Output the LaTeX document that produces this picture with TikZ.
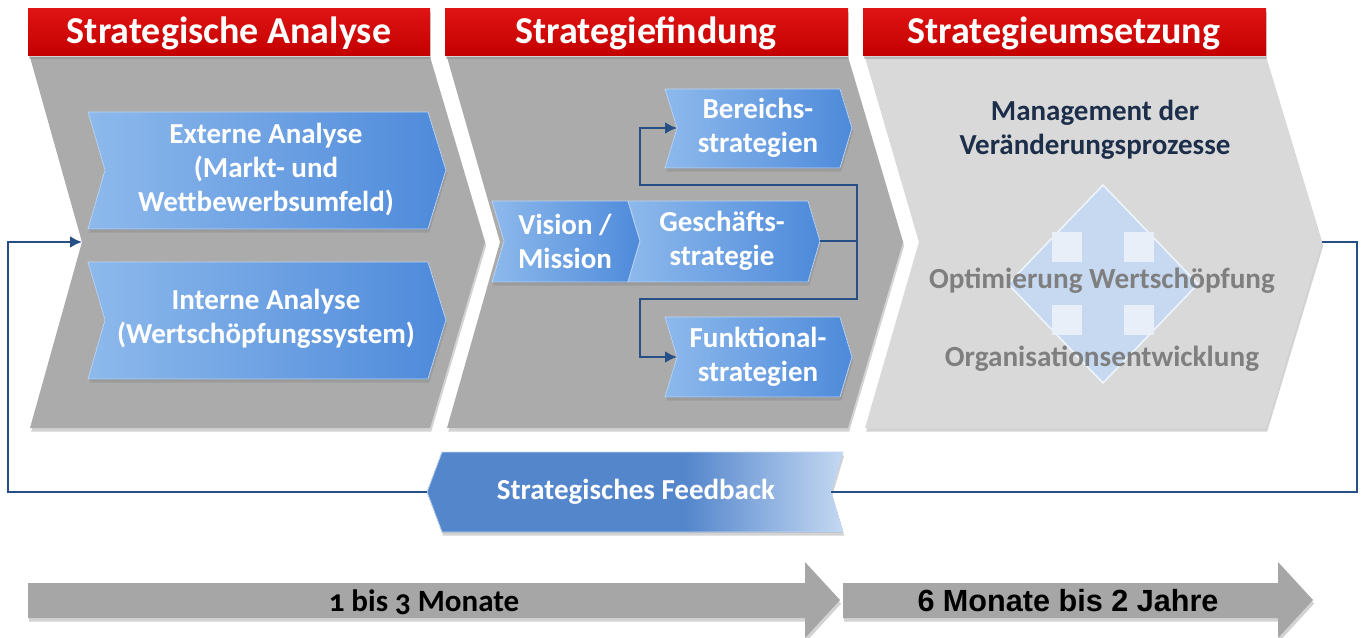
\documentclass[tikz,border=0pt]{standalone}
\usepackage{fontspec}
\setmainfont{Carlito}
\newfontfamily\arialfont{Liberation Sans}
\usetikzlibrary{shadows,arrows.meta}

\definecolor{hdrred}{HTML}{C40000}
\definecolor{hdrtop}{HTML}{E01414}
\definecolor{phasegray}{HTML}{ABABAB}
\definecolor{phaselight}{HTML}{D9D9D9}
\definecolor{boxlight}{HTML}{8DB9EC}
\definecolor{boxdark}{HTML}{4E8ADA}
\definecolor{linkblue}{HTML}{264F86}
\definecolor{fbdark}{HTML}{5486CC}
\definecolor{fblight}{HTML}{C3D8F2}
\definecolor{darknavy}{HTML}{1C2E4A}
\definecolor{txtgray}{HTML}{7F7F7F}
\definecolor{diafill}{HTML}{C6D9F1}
\definecolor{diasq}{HTML}{E9EFF8}
\definecolor{timegray}{HTML}{A6A6A6}

\pgfdeclarehorizontalshading{fbshade}{100bp}{color(0bp)=(fbdark); color(25bp)=(fbdark); color(56bp)=(fbdark); color(75bp)=(fblight); color(100bp)=(fblight)}

\tikzset{
  softshadow/.style={drop shadow={shadow xshift=0.6pt, shadow yshift=-1.8pt, opacity=0.35}},
  hdr/.style={top color=hdrtop, bottom color=hdrred, softshadow},
  phase/.style={fill=phasegray, softshadow},
  phaselt/.style={fill=phaselight, softshadow},
  bluebox/.style={left color=boxlight, right color=boxdark, draw=boxlight!60!white, line width=0.4pt, softshadow},
  fbbox/.style={shading=fbshade, draw=fblight, line width=0.4pt, softshadow},
  timearr/.style={fill=timegray, softshadow},
  link/.style={draw=linkblue, line width=1.2pt, -{Latex[length=6pt,width=6pt]}},
  hdrtxt/.style={text=white, font=\fontsize{19}{22}\selectfont\bfseries},
  btxt/.style={text=white, align=center, font=\fontsize{14.5}{17}\selectfont\bfseries},
  navytxt/.style={text=darknavy, align=center, font=\fontsize{14.5}{17}\selectfont\bfseries},
  graytxt/.style={text=txtgray, font=\fontsize{14.6}{17}\selectfont\bfseries},
}

\begin{document}
\begin{tikzpicture}[x=0.5pt, y=-0.5pt]
  \useasboundingbox (0,0) rectangle (1362,638);

  % phase chevrons
  \fill[phase] (30,57) -- (430,57) -- (485,242) -- (430,428) -- (30,428) -- (82,242) -- cycle;
  \fill[phase] (447,57) -- (848,57) -- (903,242) -- (848,428) -- (447,428) -- (500,242) -- cycle;
  \fill[phaselt] (865,57) -- (1266,57) -- (1322,242) -- (1266,428) -- (865,428) -- (919,242) -- cycle;
  \coordinate (phAin) at (82,242);
  \coordinate (phCtip) at (1322,242);

  % headers
  \fill[hdr] (28,8) rectangle (430,55);
  \fill[hdr] (445,8) rectangle (848,55);
  \fill[hdr] (863,8) rectangle (1266,55);
  \node[hdrtxt] (hdrA) at (229,33) {Strategische Analyse};
  \node[hdrtxt] (hdrB) at (646,33) {Strategiefindung};
  \node[hdrtxt] (hdrC) at (1064,33) {Strategieumsetzung};

  % analyse
  \filldraw[bluebox] (88,112) -- (428,112) -- (446,170) -- (428,229) -- (88,229) -- (105,170) -- cycle;
  \filldraw[bluebox] (88,262) -- (428,262) -- (446,320) -- (428,379) -- (88,379) -- (105,320) -- cycle;
  \node[btxt] (extT) at (266,170) {Externe Analyse\\(Markt- und\\Wettbewerbsumfeld)};
  \node[btxt] (intT) at (266,319) {Interne Analyse\\(Wertschöpfungssystem)};

  % findung
  \filldraw[bluebox] (492,201) -- (628,201) -- (640,241) -- (628,282) -- (492,282) -- (504,241) -- cycle;
  \filldraw[bluebox] (628,201) -- (808,201) -- (820,241) -- (808,282) -- (628,282) -- (640,241) -- cycle;
  \filldraw[bluebox] (665,89) -- (840,89) -- (852,128) -- (840,168) -- (665,168) -- (677,128) -- cycle;
  \filldraw[bluebox] (665,317) -- (840,317) -- (852,357) -- (840,397) -- (665,397) -- (677,357) -- cycle;
  \coordinate (gesR) at (820,241);
  \coordinate (berL) at (677,128);
  \coordinate (funL) at (677,357);
  \node[btxt] (visT) at (565,241) {Vision /\\Mission};
  \node[btxt] (gesT) at (722,241) {Geschäfts-\\strategie};
  \node[btxt] (berT) at (758,128) {Bereichs-\\strategien};
  \node[btxt] (funT) at (758,357) {Funktional-\\strategien};

  \draw[link] (gesR) -- (857,241) |- (640,185) |- (berL);
  \draw[link] (gesR) -- (857,241) |- (640,299) |- (funL);

  % umsetzung
  \node[navytxt] (mgmT) at (1095,130) {Management der\\Veränderungsprozesse};
  \fill[diafill, draw=white!70!diafill, line width=0.8pt] (1103,185) -- (1198,284) -- (1103,383) -- (1008,284) -- cycle;
  \fill[diasq] (1052,232) rectangle (1082,262);
  \fill[diasq] (1124,232) rectangle (1154,262);
  \fill[diasq] (1052,305) rectangle (1082,335);
  \fill[diasq] (1124,305) rectangle (1154,335);
  \node[graytxt] (optT) at (1102,281) {Optimierung Wertschöpfung};
  \node[graytxt] (orgT) at (1102,359) {Organisationsentwicklung};

  % feedback
  \filldraw[fbbox] (442,452) -- (843,452) -- (831,492) -- (843,532) -- (442,532) -- (427,492) -- cycle;
  \coordinate (fbL) at (427,492);
  \coordinate (fbR) at (831,492);
  \node[btxt] (fbT) at (636,492) {Strategisches Feedback};
  \draw[link,-] (phCtip) -- (1357,242) |- (fbR);
  \draw[link] (fbL) -- (8,492) |- (phAin);

  % time line
  \fill[timearr] (28,583) -- (805,583) -- (805,562) -- (840,600) -- (805,638) -- (805,618) -- (28,618) -- cycle;
  \fill[timearr] (843,583) -- (1278,583) -- (1278,562) -- (1313,600) -- (1278,638) -- (1278,618) -- (843,618) -- cycle;
  \node[font=\fontsize{15.5}{18}\selectfont\bfseries\addfontfeatures{Numbers=OldStyle}] (tA) at (424,602) {1 bis 3 Monate};
  \node[font=\arialfont\fontsize{15.3}{18}\selectfont\bfseries] (tB) at (1068,601) {6 Monate bis 2 Jahre};
\end{tikzpicture}
\end{document}
